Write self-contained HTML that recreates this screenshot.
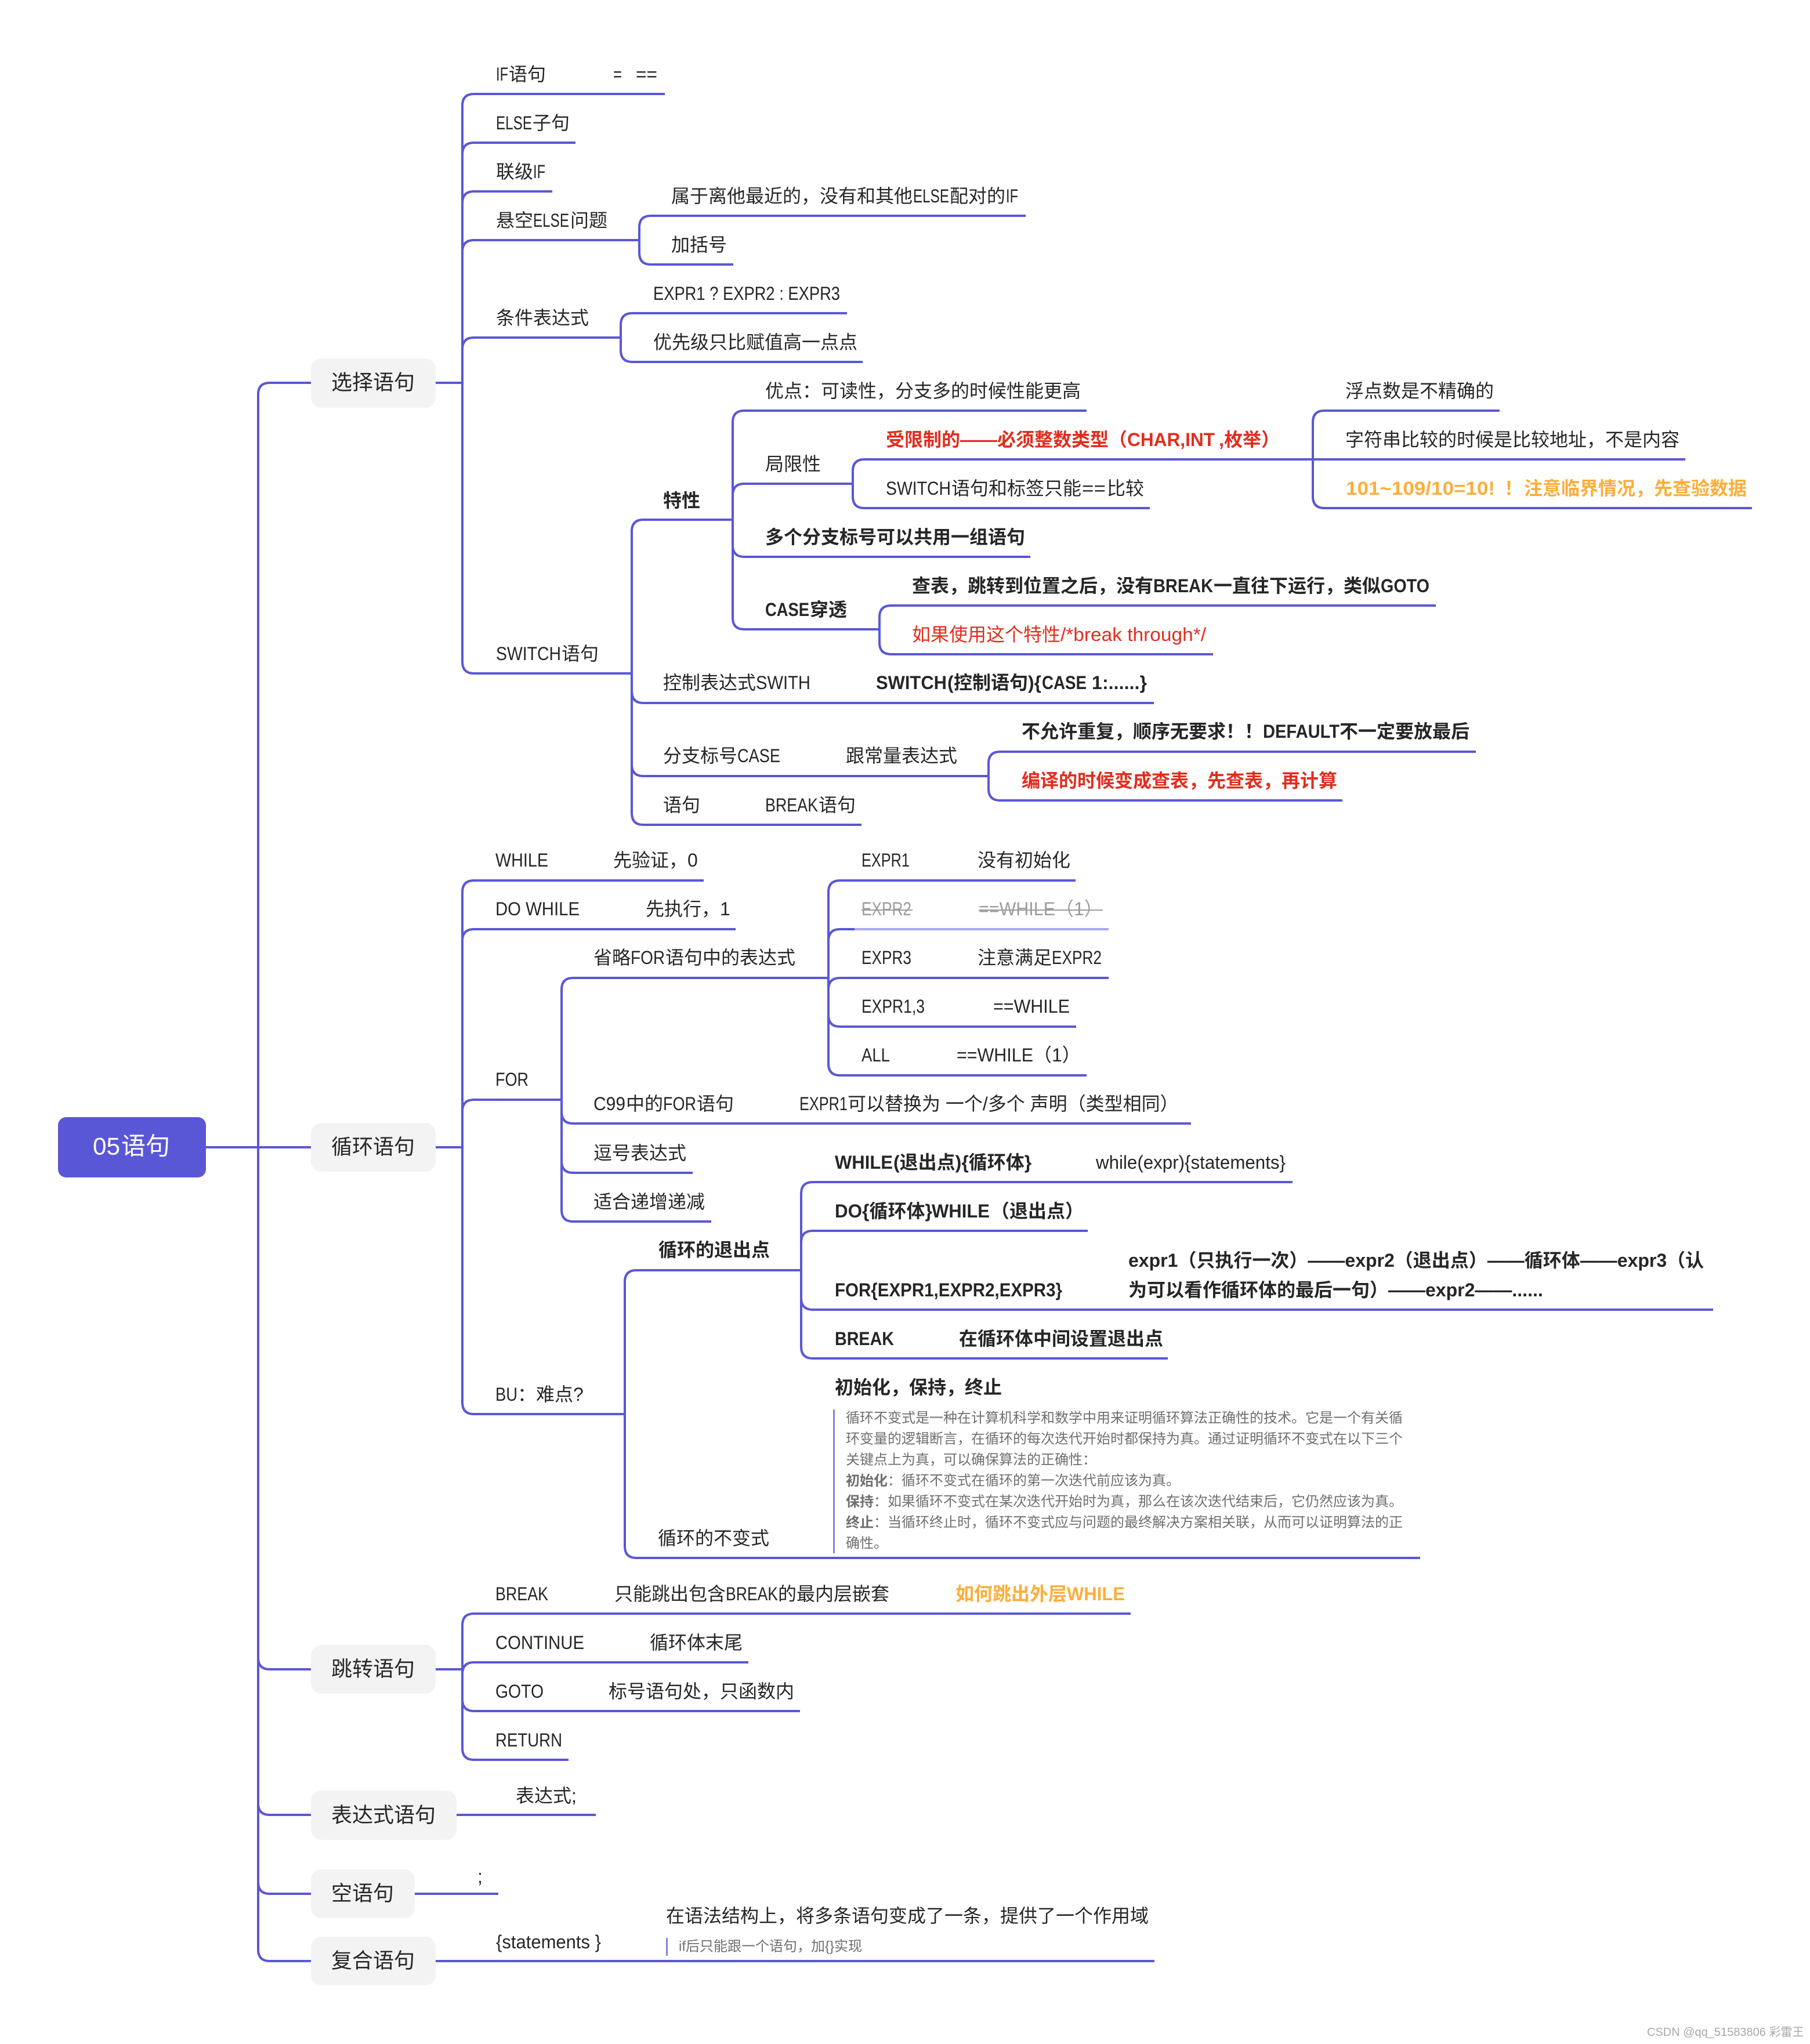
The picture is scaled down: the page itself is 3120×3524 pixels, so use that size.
<!DOCTYPE html>
<html><head><meta charset="utf-8"><style>
html,body{margin:0;padding:0;background:#fff;width:3120px;height:3524px;overflow:hidden}
svg{display:block}
text{font-family:"Liberation Sans","Noto Sans CJK SC",sans-serif;font-size:32px;fill:#262626;dominant-baseline:central}
.b{font-weight:700}
.r{fill:#e22d1e}
.o{fill:#fcae3a}
.t{font-size:36px}
.n{font-size:24px;fill:#6f6f6f}
path{fill:none;stroke:#5a57d6;stroke-width:4}
</style></head><body>
<svg width="3120" height="3524" viewBox="0 0 3120 3524" xmlns="http://www.w3.org/2000/svg">
<rect width="3120" height="3524" fill="#fff"/>
<!-- trunk -->
<path d="M536,660H465Q445,660 445,680V3361Q445,3381 465,3381H536"/>
<path d="M355,1978H536M445,2858Q445,2878 465,2878H536M445,3109Q445,3129 465,3129H536M445,3245Q445,3265 465,3265H536"/>
<!-- 选择 -->
<path d="M751,660H797M1146,162H817Q797,162 797,182V1141Q797,1161 817,1161H1089"/>
<path d="M797,266Q797,246 817,246H992M797,350Q797,330 817,330H952M797,434Q797,414 817,414H1102M797,602Q797,582 817,582H1070"/>
<path d="M1102,414V392Q1102,372 1122,372H1768M1102,414V436Q1102,456 1122,456H1264"/>
<path d="M1070,582V560Q1070,540 1090,540H1460M1070,582V604Q1070,624 1090,624H1487"/>
<!-- SWITCH -->
<path d="M1263,896H1109Q1089,896 1089,916V1402Q1089,1422 1109,1422H1485"/>
<path d="M1873,708H1283Q1263,708 1263,728V1065Q1263,1085 1283,1085H1516"/>
<path d="M1263,854Q1263,834 1283,834H1470M1263,940Q1263,960 1283,960H1776"/>
<path d="M1470,834V812Q1470,792 1490,792H2263M1470,834V856Q1470,876 1490,876H1982"/>
<path d="M2585,708H2283Q2263,708 2263,728V856Q2263,876 2283,876H3020M2263,792H2905"/>
<path d="M1516,1085V1064Q1516,1044 1536,1044H2475M1516,1085V1108Q1516,1128 1536,1128H2091"/>
<path d="M1089,1192Q1089,1212 1109,1212H1989M1089,1318Q1089,1338 1109,1338H1704"/>
<path d="M1704,1338V1316Q1704,1296 1724,1296H2544M1704,1338V1360Q1704,1380 1724,1380H2314"/>
<!-- 循环 -->
<path d="M751,1978H797M1213,1518H817Q797,1518 797,1538V2418Q797,2438 817,2438H1077"/>
<path d="M797,1622Q797,1602 817,1602H1268M797,1916Q797,1896 817,1896H968"/>
<path d="M1428,1686H988Q968,1686 968,1706V2086Q968,2106 988,2106H1226"/>
<path d="M968,1917Q968,1937 988,1937H2053M968,2002Q968,2022 988,2022H1194"/>
<path d="M1854,1518H1448Q1428,1518 1428,1538V1834Q1428,1854 1448,1854H1873"/>
<path d="M1428,1622Q1428,1602 1448,1602H1473"/>
<path d="M1473,1602H1911" style="stroke:#aba9ec"/>
<path d="M1428,1706Q1428,1686 1448,1686H1911M1428,1750Q1428,1770 1448,1770H1855"/>
<path d="M1381,2190H1097Q1077,2190 1077,2210V2666Q1077,2686 1097,2686H2448"/>
<path d="M2228,2038H1401Q1381,2038 1381,2058V2322Q1381,2342 1401,2342H2013"/>
<path d="M1381,2142Q1381,2122 1401,2122H1875M1381,2238Q1381,2258 1401,2258H2953"/>
<!-- 跳转 -->
<path d="M751,2878H797M1949,2782H817Q797,2782 797,2802V3014Q797,3034 817,3034H980"/>
<path d="M797,2886Q797,2866 817,2866H1290M797,2930Q797,2950 817,2950H1379"/>
<path d="M787,3129H1027M715,3265H859M751,3381H1990"/>
<!-- boxes -->
<rect x="100" y="1926" width="255" height="104" rx="14" fill="#5a57d6"/>
<rect x="536" y="618" width="215" height="85" rx="18" fill="#f3f3f3"/>
<rect x="536" y="1936" width="215" height="84" rx="18" fill="#f3f3f3"/>
<rect x="536" y="2836" width="215" height="84" rx="18" fill="#f3f3f3"/>
<rect x="536" y="3087" width="251" height="85" rx="18" fill="#f3f3f3"/>
<rect x="536" y="3223" width="179" height="84" rx="18" fill="#f3f3f3"/>
<rect x="536" y="3339" width="215" height="84" rx="18" fill="#f3f3f3"/>
<text x="160" y="1976" textLength="47" lengthAdjust="spacingAndGlyphs" style="font-size:42px;fill:#fff">05</text><text x="209" y="1976" style="font-size:42px;fill:#fff">语句</text>
<text class="t" x="571" y="659">选择语句</text>
<text class="t" x="571" y="1977">循环语句</text>
<text class="t" x="571" y="2877">跳转语句</text>
<text class="t" x="571" y="3129">表达式语句</text>
<text class="t" x="571" y="3264">空语句</text>
<text class="t" x="571" y="3380">复合语句</text>
<!-- 选择 text -->
<text x="855" y="128" textLength="21" lengthAdjust="spacingAndGlyphs">IF</text><text x="877" y="128">语句</text><text x="1057" y="128" textLength="15" lengthAdjust="spacingAndGlyphs">=</text><text x="1096" y="128" textLength="37" lengthAdjust="spacingAndGlyphs">==</text>
<text x="855" y="212" textLength="62" lengthAdjust="spacingAndGlyphs">ELSE</text><text x="918" y="212">子句</text>
<text x="855" y="296">联级</text><text x="919" y="296" textLength="21" lengthAdjust="spacingAndGlyphs">IF</text>
<text x="855" y="380">悬空</text><text x="919" y="380" textLength="62" lengthAdjust="spacingAndGlyphs">ELSE</text><text x="983" y="380">问题</text>
<text x="1157" y="338">属于离他最近的，没有和其他</text><text x="1574" y="338" textLength="62" lengthAdjust="spacingAndGlyphs">ELSE</text><text x="1637" y="338">配对的</text><text x="1734" y="338" textLength="21" lengthAdjust="spacingAndGlyphs">IF</text>
<text x="1157" y="422">加括号</text>
<text x="855" y="548">条件表达式</text>
<text x="1126" y="506" textLength="322" lengthAdjust="spacingAndGlyphs">EXPR1 ? EXPR2 : EXPR3</text>
<text x="1126" y="590">优先级只比赋值高一点点</text>
<text x="855" y="1127" textLength="112" lengthAdjust="spacingAndGlyphs">SWITCH</text><text x="968" y="1127">语句</text>
<text class="b" x="1143" y="863">特性</text>
<text x="1319" y="674">优点：可读性，分支多的时候性能更高</text>
<text x="1319" y="800">局限性</text>
<text class="b r" x="1527" y="758">受限制的——必须整数类型（</text><text class="b r" x="1943" y="758" textLength="151" lengthAdjust="spacingAndGlyphs">CHAR,INT</text><text class="b r" x="2101" y="758">,</text><text class="b r" x="2110" y="758">枚举）</text>
<text x="1527" y="842" textLength="112" lengthAdjust="spacingAndGlyphs">SWITCH</text><text x="1640" y="842">语句和标签只能</text><text x="1865" y="842" textLength="41" lengthAdjust="spacingAndGlyphs">==</text><text x="1908" y="842">比较</text>
<text x="2319" y="674">浮点数是不精确的</text>
<text x="2319" y="758">字符串比较的时候是比较地址，不是内容</text>
<text class="b o" x="2320" y="842" textLength="257" lengthAdjust="spacingAndGlyphs">101~109/10=10!</text><text class="b o" x="2593" y="842">！</text><text class="b o" x="2627" y="842">注意临界情况，先查验数据</text>
<text class="b" x="1319" y="926">多个分支标号可以共用一组语句</text>
<text class="b" x="1319" y="1051" textLength="76" lengthAdjust="spacingAndGlyphs">CASE</text><text class="b" x="1396" y="1051">穿透</text>
<text class="b" x="1572" y="1010">查表，跳转到位置之后，没有</text><text class="b" x="1988" y="1010" textLength="103" lengthAdjust="spacingAndGlyphs">BREAK</text><text class="b" x="2092" y="1010">一直往下运行，类似</text><text class="b" x="2380" y="1010" textLength="84" lengthAdjust="spacingAndGlyphs">GOTO</text>
<text class="r" x="1572" y="1094">如果使用这个特性</text><text class="r" x="1828" y="1094" textLength="251" lengthAdjust="spacingAndGlyphs">/*break through*/</text>
<text x="1143" y="1177">控制表达式</text><text x="1303" y="1177" textLength="94" lengthAdjust="spacingAndGlyphs">SWITH</text>
<text class="b" x="1510" y="1177" textLength="122" lengthAdjust="spacingAndGlyphs">SWITCH</text><text class="b" x="1633" y="1177">(</text><text class="b" x="1644" y="1177">控制语句</text><text class="b" x="1772" y="1177" textLength="23" lengthAdjust="spacingAndGlyphs">){</text><text class="b" x="1796" y="1177" textLength="77" lengthAdjust="spacingAndGlyphs">CASE</text><text class="b" x="1882" y="1177" textLength="95" lengthAdjust="spacingAndGlyphs">1:......}</text>
<text x="1143" y="1303">分支标号</text><text x="1271" y="1303" textLength="74" lengthAdjust="spacingAndGlyphs">CASE</text>
<text x="1458" y="1303">跟常量表达式</text>
<text class="b" x="1761" y="1261">不允许重复，顺序无要求！！</text><text class="b" x="2177" y="1261" textLength="132" lengthAdjust="spacingAndGlyphs">DEFAULT</text><text class="b" x="2309" y="1261">不一定要放最后</text>
<text class="b r" x="1761" y="1346">编译的时候变成查表，先查表，再计算</text>
<text x="1143" y="1388">语句</text>
<text x="1319" y="1388" textLength="91" lengthAdjust="spacingAndGlyphs">BREAK</text><text x="1411" y="1388">语句</text>
<!-- 循环 text -->
<text x="854" y="1483" textLength="91" lengthAdjust="spacingAndGlyphs">WHILE</text><text x="1057" y="1483">先验证，0</text>
<text x="854" y="1567" textLength="145" lengthAdjust="spacingAndGlyphs">DO WHILE</text><text x="1113" y="1567">先执行，1</text>
<text x="854" y="1861" textLength="57" lengthAdjust="spacingAndGlyphs">FOR</text>
<text x="1023" y="1651">省略</text><text x="1087" y="1651" textLength="59" lengthAdjust="spacingAndGlyphs">FOR</text><text x="1147" y="1651">语句中的表达式</text>
<text x="1485" y="1483" textLength="83" lengthAdjust="spacingAndGlyphs">EXPR1</text><text x="1685" y="1483">没有初始化</text>
<g opacity="0.45"><text x="1485" y="1567" textLength="86" lengthAdjust="spacingAndGlyphs">EXPR2</text><text x="1687" y="1567" textLength="132" lengthAdjust="spacingAndGlyphs">==WHILE</text><text x="1819" y="1567">（1）</text>
<rect x="1485" y="1568" width="88" height="2" fill="#262626"/><rect x="1687" y="1568" width="214" height="2" fill="#262626"/></g>
<text x="1485" y="1651" textLength="86" lengthAdjust="spacingAndGlyphs">EXPR3</text><text x="1685" y="1651">注意满足</text><text x="1813" y="1651" textLength="86" lengthAdjust="spacingAndGlyphs">EXPR2</text>
<text x="1485" y="1735" textLength="109" lengthAdjust="spacingAndGlyphs">EXPR1,3</text><text x="1712" y="1735" textLength="132" lengthAdjust="spacingAndGlyphs">==WHILE</text>
<text x="1485" y="1819" textLength="49" lengthAdjust="spacingAndGlyphs">ALL</text><text x="1649" y="1819" textLength="132" lengthAdjust="spacingAndGlyphs">==WHILE</text><text x="1781" y="1819">（1）</text>
<text x="1023" y="1903" textLength="55" lengthAdjust="spacingAndGlyphs">C99</text><text x="1079" y="1903">中的</text><text x="1143" y="1903" textLength="57" lengthAdjust="spacingAndGlyphs">FOR</text><text x="1201" y="1903">语句</text>
<text x="1378" y="1903" textLength="83" lengthAdjust="spacingAndGlyphs">EXPR1</text><text x="1461" y="1903">可以替换为 一个/多个 声明（类型相同）</text>
<text x="1023" y="1988">逗号表达式</text>
<text x="1023" y="2072">适合递增递减</text>
<text x="854" y="2404" textLength="38" lengthAdjust="spacingAndGlyphs">BU</text><text x="892" y="2404">：难点</text><text x="988" y="2404">?</text>
<text class="b" x="1135" y="2155">循环的退出点</text>
<text class="b" x="1439" y="2004" textLength="100" lengthAdjust="spacingAndGlyphs">WHILE</text><text class="b" x="1540" y="2004">(退出点){循环体}</text><text x="1889" y="2004" textLength="327" lengthAdjust="spacingAndGlyphs">while(expr){statements}</text>
<text class="b" x="1439" y="2088" textLength="47" lengthAdjust="spacingAndGlyphs">DO</text><text class="b" x="1486" y="2088">{循环体}</text><text class="b" x="1606" y="2088" textLength="100" lengthAdjust="spacingAndGlyphs">WHILE</text><text class="b" x="1708" y="2088">（退出点）</text>
<text class="b" x="1945" y="2173">expr1（只执行一次）——expr2（退出点）——循环体——expr3（认</text>
<text class="b" x="1945" y="2224">为可以看作循环体的最后一句）——expr2——......</text>
<text class="b" x="1439" y="2224" textLength="392" lengthAdjust="spacingAndGlyphs">FOR{EXPR1,EXPR2,EXPR3}</text>
<text class="b" x="1439" y="2308" textLength="102" lengthAdjust="spacingAndGlyphs">BREAK</text><text class="b" x="1653" y="2308">在循环体中间设置退出点</text>
<text x="1134" y="2652">循环的不变式</text>
<text class="b" x="1439" y="2392">初始化，保持，终止</text>
<rect x="1436" y="2430" width="3" height="248" fill="#8583e3"/>
<text class="n" x="1458" y="2445">循环不变式是一种在计算机科学和数学中用来证明循环算法正确性的技术。它是一个有关循</text>
<text class="n" x="1458" y="2481">环变量的逻辑断言，在循环的每次迭代开始时都保持为真。通过证明循环不变式在以下三个</text>
<text class="n" x="1458" y="2517">关键点上为真，可以确保算法的正确性：</text>
<text class="n" x="1458" y="2553"><tspan class="b">初始化</tspan>：循环不变式在循环的第一次迭代前应该为真。</text>
<text class="n" x="1458" y="2589"><tspan class="b">保持</tspan>：如果循环不变式在某次迭代开始时为真，那么在该次迭代结束后，它仍然应该为真。</text>
<text class="n" x="1458" y="2625"><tspan class="b">终止</tspan>：当循环终止时，循环不变式应与问题的最终解决方案相关联，从而可以证明算法的正</text>
<text class="n" x="1458" y="2661">确性。</text>
<!-- 跳转 text -->
<text x="854" y="2748" textLength="91" lengthAdjust="spacingAndGlyphs">BREAK</text><text x="1059" y="2748">只能跳出包含</text><text x="1251" y="2748" textLength="90" lengthAdjust="spacingAndGlyphs">BREAK</text><text x="1341" y="2748">的最内层嵌套</text><text class="b o" x="1647" y="2748">如何跳出外层</text><text class="b o" x="1839" y="2748" textLength="100" lengthAdjust="spacingAndGlyphs">WHILE</text>
<text x="854" y="2832" textLength="153" lengthAdjust="spacingAndGlyphs">CONTINUE</text><text x="1120" y="2832">循环体末尾</text>
<text x="854" y="2916" textLength="83" lengthAdjust="spacingAndGlyphs">GOTO</text><text x="1049" y="2916">标号语句处，只函数内</text>
<text x="854" y="3000" textLength="115" lengthAdjust="spacingAndGlyphs">RETURN</text>
<text x="889" y="3096">表达式;</text>
<text x="823" y="3235">;</text>
<text x="855" y="3348" textLength="181" lengthAdjust="spacingAndGlyphs">{statements }</text>
<text x="1148" y="3303">在语法结构上，将多条语句变成了一条，提供了一个作用域</text>
<rect x="1148" y="3341" width="3" height="31" fill="#8583e3"/>
<text class="n" x="1170" y="3356">if后只能跟一个语句，加{}实现</text>
<text x="2839" y="3504" style="font-size:20px;fill:#a8a8a8">CSDN @qq_51583806 彩雷王</text>
</svg>
</body></html>
